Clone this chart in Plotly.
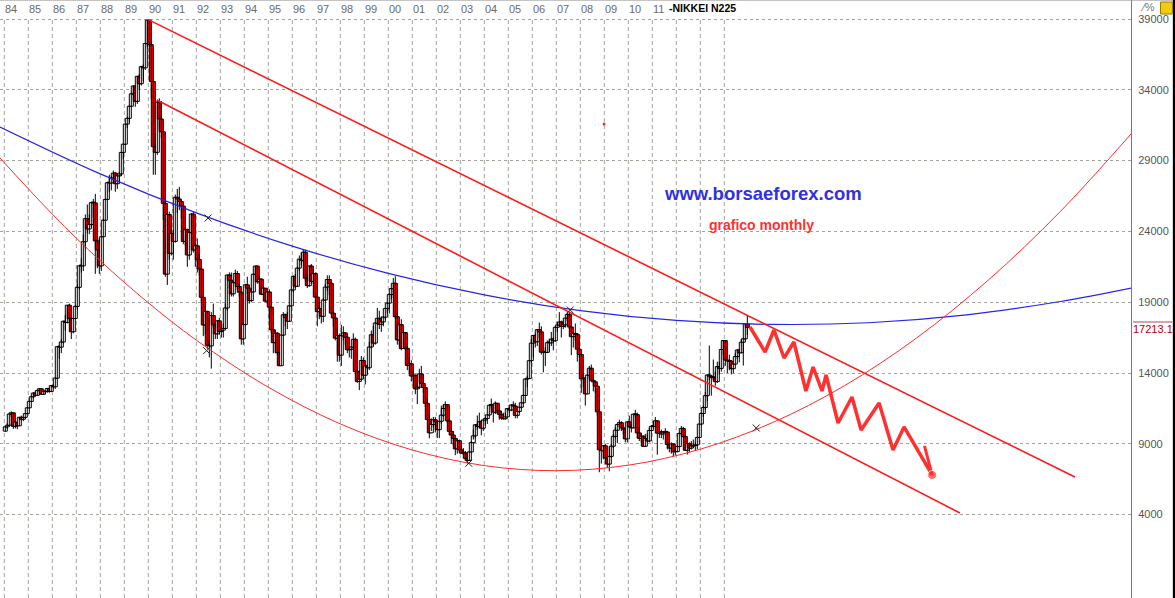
import plotly.graph_objects as go

# ---------------- data ----------------
START_YEAR = 1984
FIRST_OPEN = 9893  # open of Jan 1984 (each later bar opens at the previous close)

CLOSES = [
    10196, 10311, 11099, 11188, 10234, 10520, 10271, 10872, 10734, 10865, 11134, 11542,  # 1984
    11992, 12322, 12580, 12426, 12758, 12881, 12499, 12687, 12700, 12900, 12700, 13113,  # 1985
    13024, 13640, 15859, 15826, 16189, 17654, 17569, 18787, 17853, 16910, 17852, 18701,  # 1986
    20048, 21567, 21566, 23274, 24902, 24176, 24489, 26029, 26011, 23329, 22687, 21564,  # 1987
    23622, 24790, 26260, 27434, 27417, 27770, 28115, 27367, 27924, 28060, 29579, 30159,  # 1988
    31581, 31985, 32838, 33713, 34266, 33183, 34954, 34431, 35636, 35549, 37268, 38915,  # 1989
    37188, 34591, 29980, 29584, 33130, 31940, 31035, 25978, 20984, 25194, 22454, 23849,  # 1990
    23294, 26409, 26292, 26111, 25790, 23291, 24120, 22336, 23916, 25222, 22687, 22984,  # 1991
    22023, 21339, 19346, 17391, 18348, 15952, 15910, 18061, 17399, 16767, 17684, 16925,  # 1992
    17024, 17146, 18591, 20919, 20552, 19590, 20380, 21027, 20106, 19703, 16408, 17417,  # 1993
    20229, 19997, 19112, 19725, 20974, 21552, 20449, 20629, 19564, 19990, 19076, 19723,  # 1994
    18650, 17053, 16140, 16807, 15437, 14517, 16678, 18117, 17913, 17655, 18744, 19868,  # 1995
    20813, 20125, 21407, 22041, 21956, 22531, 20693, 20167, 21556, 20466, 21020, 19361,  # 1996
    18330, 18557, 18003, 19151, 20069, 20605, 20331, 18229, 17888, 16459, 16636, 15259,  # 1997
    16628, 16832, 16527, 15641, 15671, 15830, 16379, 14108, 13406, 13564, 14883, 13842,  # 1998
    14499, 14368, 15837, 16702, 16112, 17530, 17862, 17437, 17605, 17942, 18558, 18934,  # 1999
    19540, 19960, 20337, 17974, 16332, 17411, 15727, 16861, 15747, 14540, 14649, 13786,  # 2000
    13844, 12884, 12999, 13934, 13262, 12969, 11861, 10714, 9775, 10367, 10697, 10543,   # 2001
    9998, 10588, 11025, 11493, 11764, 10622, 9877, 9619, 9383, 8640, 9216, 8579,         # 2002
    8340, 8363, 7973, 7831, 8425, 9083, 9563, 10344, 10219, 10560, 10101, 10677,         # 2003
    10784, 11042, 11715, 11762, 11236, 11859, 11326, 11082, 10824, 10771, 10899, 11489,  # 2004
    11388, 11741, 11669, 11009, 11277, 11584, 11900, 12414, 13574, 13607, 14872, 16111,  # 2005
    16650, 16206, 17060, 16906, 15467, 15505, 15457, 16141, 16128, 16399, 16274, 17226,  # 2006
    17383, 17604, 17288, 17400, 17876, 18138, 17249, 16569, 16786, 16737, 15680, 15308,  # 2007
    13592, 13603, 12526, 13850, 14338, 13481, 13377, 13073, 11260, 8577, 8512, 8860,     # 2008
    7994, 7568, 8110, 8828, 9523, 9958, 10357, 10493, 10133, 10035, 9345, 10546,         # 2009
    10198, 10126, 11090, 11057, 9769, 9383, 9537, 8824, 9369, 9202, 9937, 10229,         # 2010
    10238, 10624, 9755, 9850, 9694, 9816, 9833, 8955, 8700, 8988, 8435, 8455,            # 2011
    8803, 9723, 10084, 9521, 8543, 9007, 8695, 8840, 8870, 8928, 9446, 10395,            # 2012
    11139, 11559, 12398, 13861, 13775, 13677, 13668, 13389, 14456, 14328, 15662, 16291,  # 2013
    14915, 14841, 14828, 14304, 14632, 15162, 15621, 15425, 16174, 16414, 17460, 17213.1,  # 2014
]

HIGHS = [
    10260, 10450, 11200, 11290, 11190, 10620, 10550, 10900, 10990, 10900, 11180, 11560,
    12030, 12400, 12650, 12700, 12780, 12950, 12900, 12700, 12750, 12950, 12960, 13130,
    13200, 13700, 15900, 16000, 16400, 17700, 18100, 18800, 18900, 17900, 17900, 18820,
    20300, 21600, 22100, 23800, 25200, 25900, 25200, 26100, 26300, 26650, 23400, 23500,
    23700, 24900, 26300, 27500, 28000, 27900, 28300, 28200, 28000, 28200, 29600, 30200,
    31600, 32100, 32900, 33800, 34300, 34300, 34960, 35100, 35700, 35800, 37300, 38957,
    38950, 37400, 34600, 30900, 33300, 33400, 33200, 31100, 26200, 25300, 25400, 24200,
    24100, 26600, 27000, 27146, 26200, 25800, 24300, 24200, 24000, 25300, 25400, 23200,
    23500, 22400, 21400, 19400, 18700, 18400, 16400, 18300, 18900, 17500, 17700, 17900,
    17400, 17500, 18900, 20950, 21100, 21100, 20500, 21300, 21200, 20300, 19800, 17600,
    20300, 20800, 20200, 20000, 21000, 21573, 21600, 20900, 20700, 20100, 20000, 19800,
    19900, 18700, 17100, 17000, 16900, 15500, 16700, 18300, 18200, 18300, 18800, 19900,
    20900, 21000, 21500, 22300, 22500, 22750, 22700, 21000, 21600, 21700, 21300, 21100,
    19400, 19000, 18600, 19300, 20300, 20900, 20900, 20400, 18400, 18200, 17200, 16800,
    17400, 17300, 16900, 16600, 15900, 15900, 16800, 16500, 14400, 14200, 15200, 15100,
    14600, 14600, 16200, 17000, 17300, 17600, 18600, 18400, 18000, 18000, 18600, 19000,
    19600, 20000, 20700, 20833, 18300, 17500, 17800, 16900, 16900, 15900, 15100, 14900,
    14200, 13900, 13300, 14300, 14500, 13900, 13000, 12200, 11100, 10800, 10900, 10900,
    10600, 10600, 11700, 11800, 12000, 11800, 10800, 10100, 9900, 9400, 9300, 9300,
    8800, 8700, 8500, 8300, 8500, 9200, 10000, 10400, 11000, 11200, 10700, 10700,
    10900, 11100, 11800, 12195, 11800, 12000, 11900, 11500, 11300, 11200, 11200, 11500,
    11600, 11800, 12000, 11900, 11300, 11600, 11900, 12500, 13600, 13800, 14900, 16400,
    16700, 16800, 17100, 17563, 17300, 15600, 15800, 16300, 16400, 16900, 16500, 17300,
    17600, 18300, 17700, 17700, 17900, 18300, 18262, 17300, 16900, 17500, 16800, 16300,
    15400, 14000, 13700, 13900, 14500, 14600, 13600, 13400, 12900, 11500, 9500, 8900,
    9000, 8000, 8800, 9000, 9700, 10170, 10400, 10700, 10600, 10300, 10100, 10600,
    10982, 10400, 11100, 11400, 11200, 10200, 9700, 9600, 9700, 9700, 10100, 10300,
    10600, 10891, 10600, 9900, 10000, 9900, 10100, 9900, 9100, 9100, 9000, 8800,
    8900, 9800, 10255, 10200, 9600, 9100, 9100, 9200, 9300, 9100, 9500, 10400,
    11200, 11700, 12650, 13900, 15942, 13800, 14953, 14100, 14800, 14800, 15700, 16320,
    16320, 15000, 15300, 14900, 14700, 15400, 15700, 15700, 16400, 16500, 17520, 18030,
]

LOWS = [
    9850, 10050, 10280, 10900, 10050, 10080, 10030, 10250, 10650, 10600, 10800, 11100,
    11500, 11950, 12250, 12350, 12400, 12700, 12450, 12450, 12500, 12600, 12600, 12700,
    12900, 12880, 13600, 15000, 15400, 16100, 17000, 17500, 17700, 16400, 16800, 17800,
    18500, 19900, 21100, 21200, 22800, 23900, 23800, 24300, 25000, 21000, 21400, 21000,
    21200, 23600, 24800, 26200, 26800, 26900, 27500, 26800, 27000, 27400, 27900, 29100,
    30100, 31300, 31700, 32800, 33600, 32800, 33000, 34000, 34300, 34600, 35400, 37000,
    37000, 33300, 28000, 28000, 29400, 31200, 30600, 24800, 20800, 20222, 22000, 22300,
    22000, 23200, 25300, 25500, 24900, 23100, 23000, 21500, 22000, 23800, 22500, 21500,
    21100, 20900, 19100, 16600, 16700, 15700, 15100, 14309, 17200, 16400, 16400, 16700,
    16500, 16500, 17100, 18400, 20000, 19400, 19400, 20300, 19900, 19400, 16000, 16000,
    17400, 19600, 18900, 19000, 19700, 20900, 20300, 20300, 19500, 19500, 19000, 18900,
    17800, 16800, 15400, 15400, 15300, 14485, 14500, 16600, 17300, 17100, 17600, 18700,
    19700, 20000, 20100, 21200, 21600, 21800, 20500, 20000, 20100, 20300, 20300, 19300,
    17300, 17800, 17500, 17600, 19100, 19800, 19500, 18100, 17300, 16300, 14800, 14800,
    14500, 16300, 16000, 15400, 15100, 15000, 15700, 14000, 13300, 12787, 13500, 13600,
    13200, 13900, 14200, 15800, 15900, 16000, 17400, 17100, 16900, 17300, 17800, 18200,
    18200, 19200, 19300, 17800, 16000, 16000, 15600, 15700, 15600, 14200, 14000, 13400,
    13100, 12500, 11800, 12900, 13100, 12600, 11600, 10700, 9382, 9900, 10200, 9800,
    9400, 9400, 10400, 10900, 11300, 10500, 9600, 9000, 8900, 8200, 8300, 8400,
    8300, 8200, 7800, 7607, 7800, 8400, 9300, 9400, 10000, 10100, 9600, 9900,
    10300, 10400, 11000, 11500, 10500, 11100, 11100, 10700, 10700, 10700, 10700, 10900,
    11200, 11300, 11600, 10800, 10800, 11200, 11500, 11800, 12400, 13000, 13600, 14700,
    15100, 15800, 15900, 16500, 15300, 14045, 14500, 15400, 15500, 15900, 15600, 16200,
    16900, 17300, 16500, 17100, 17200, 17700, 17100, 15262, 15800, 16300, 14800, 15100,
    12600, 13000, 11700, 12500, 13600, 13400, 12700, 12600, 11000, 6994, 7600, 7900,
    7800, 7300, 7055, 8000, 8700, 9400, 9050, 10200, 9900, 9700, 9100, 9100,
    10100, 9800, 10100, 10900, 9400, 9200, 9100, 8800, 8800, 9100, 9100, 9900,
    10100, 10200, 8227, 9400, 9400, 9300, 9800, 8600, 8400, 8300, 8100, 8200,
    8400, 8800, 9700, 9400, 8500, 8238, 8400, 8600, 8700, 8500, 8600, 9400,
    10300, 10900, 11400, 12000, 13500, 12400, 13500, 13100, 13300, 13900, 14100, 15300,
    14500, 13995, 14200, 13900, 13970, 14600, 15000, 14750, 15400, 14529, 16300, 16700,
]

LAST_PRICE = 17213.1

YEAR_LABELS = ["84", "85", "86", "87", "88", "89", "90", "91", "92", "93", "94", "95",
               "96", "97", "98", "99", "00", "01", "02", "03", "04", "05", "06", "07",
               "08", "09", "10", "11"]
GRID_YEARS = list(range(1984, 2015))
Y_TICKS = [4000, 9000, 14000, 19000, 24000, 29000, 34000, 39000]

# drawn studies, x in fractional years
CHANNEL_TOP_X = [1990.0, 2028.61]
CHANNEL_TOP_Y = [38957, 6655]
CHANNEL_LOW_X = [1990.36, 2023.82]
CHANNEL_LOW_Y = [33280, 4113]

BLUE_ARC_X = [1983.82, 1988, 1992, 1996, 2000, 2004, 2008, 2012, 2016, 2020, 2024, 2028, 2030.95]
BLUE_ARC_Y = [31373, 28061, 25306, 22962, 21034, 19516, 18407, 17715, 17432, 17550, 18087, 19047, 19999]

RED_ARC_X = [1983.82, 1986, 1988, 1990, 1992, 1995, 1998, 2001, 2004, 2007, 2010, 2013,
             2016, 2019, 2022, 2025, 2028, 2030.95]
RED_ARC_Y = [29184, 25221, 21924, 18958, 16323, 12997, 10405, 8562, 7460, 7100, 7489, 8619,
             10490, 13096, 16458, 20561, 25405, 30886]

MARK_X = [1992.49, 1992.43, 2003.35, 2007.58, 2015.33]
MARK_Y = [24946, 15580, 7623, 18449, 10116]

ZIG_X = [2015.07, 2015.70, 2016.07, 2016.49, 2016.90, 2017.40, 2017.70, 2018.07, 2018.24,
         2018.74, 2019.32, 2019.70, 2020.45, 2021.03, 2021.49, 2022.66]
ZIG_Y = [17249, 15484, 17037, 15060, 16190, 12729, 14424, 12729, 13859,
         10469, 12305, 9975, 11882, 8563, 10187, 6797]
ARROW_X = [2022.34, 2022.66]
ARROW_Y = [8845, 6797]

X_RANGE = [1983.821, 2030.946]
Y_RANGE = [-1890, 40342]

# ---------------- figure ----------------
months = [START_YEAR + i / 12 + 1 / 24 for i in range(len(CLOSES))]
opens = [FIRST_OPEN] + CLOSES[:-1]
body_base = [min(o, c) for o, c in zip(opens, CLOSES)]
body_len = [max(abs(c - o), 60) for o, c in zip(opens, CLOSES)]
body_col = ["#ffffff" if c >= o else "#ff0000" for o, c in zip(opens, CLOSES)]

wick_x, wick_y = [], []
for xm, h, l in zip(months, HIGHS, LOWS):
    wick_x += [xm, xm, None]
    wick_y += [l, h, None]

fig = go.Figure()

fig.add_trace(go.Scatter(x=wick_x, y=wick_y, mode="lines",
                         line=dict(color="#000000", width=1),
                         showlegend=False, hoverinfo="skip"))
fig.add_trace(go.Bar(x=months, y=body_len, base=body_base, width=4 / 24,
                     marker=dict(color=body_col, line=dict(color="#000000", width=1)),
                     showlegend=False, hoverinfo="skip"))

fig.add_trace(go.Scatter(x=BLUE_ARC_X, y=BLUE_ARC_Y, mode="lines",
                         line=dict(color="#2626e6", width=1.2, shape="spline"),
                         showlegend=False, hoverinfo="skip"))
fig.add_trace(go.Scatter(x=RED_ARC_X, y=RED_ARC_Y, mode="lines",
                         line=dict(color="#ff2a2a", width=1, shape="spline"),
                         showlegend=False, hoverinfo="skip"))
fig.add_trace(go.Scatter(x=CHANNEL_TOP_X, y=CHANNEL_TOP_Y, mode="lines",
                         line=dict(color="#ff1a1a", width=1.6),
                         showlegend=False, hoverinfo="skip"))
fig.add_trace(go.Scatter(x=CHANNEL_LOW_X, y=CHANNEL_LOW_Y, mode="lines",
                         line=dict(color="#ff1a1a", width=1.6),
                         showlegend=False, hoverinfo="skip"))
fig.add_trace(go.Scatter(x=MARK_X, y=MARK_Y, mode="markers",
                         marker=dict(symbol="x-thin", size=7, line=dict(color="#222222", width=1)),
                         showlegend=False, hoverinfo="skip"))
fig.add_trace(go.Scatter(x=ZIG_X, y=ZIG_Y, mode="lines",
                         line=dict(color="#ff3030", width=3.5),
                         showlegend=False, hoverinfo="skip"))
fig.add_trace(go.Scatter(x=ARROW_X, y=ARROW_Y, mode="lines+markers",
                         line=dict(color="#ff3030", width=3),
                         marker=dict(color="#ff3030", size=[0, 9], symbol="circle"),
                         showlegend=False, hoverinfo="skip"))
fig.add_trace(go.Scatter(x=[2008.99], y=[31585], mode="markers",
                         marker=dict(color="#ff2020", size=2.5, symbol="square"),
                         showlegend=False, hoverinfo="skip"))

shapes = []
for yr in GRID_YEARS:
    shapes.append(dict(type="line", xref="x", yref="y", x0=yr, x1=yr,
                       y0=Y_RANGE[0], y1=Y_TICKS[-1],
                       line=dict(color="#a3a39b", width=1, dash="4px,3px"), layer="below"))
# last price marker line on the axis
shapes.append(dict(type="line", xref="paper", yref="y", x0=1.0018, x1=1.0363,
                   y0=17602, y1=17602, line=dict(color="#b04848", width=1)))
# top frame
shapes.append(dict(type="line", xref="paper", yref="paper", x0=0, x1=1.04, y0=1, y1=1,
                   line=dict(color="#8a8a8a", width=1)))
# right window edge
shapes.append(dict(type="rect", xref="paper", yref="paper", x0=1.0370, x1=1.045, y0=0, y1=1,
                   fillcolor="#000000", line=dict(width=0)))
# yellow icon
shapes.append(dict(type="rect", xref="paper", yref="paper", x0=1.0261, x1=1.0366,
                   y0=1 - 14 / 598, y1=1 - 2 / 598,
                   fillcolor="#f2cc10", line=dict(color="#a07800", width=1)))

annotations = []
for lab, yr in zip(YEAR_LABELS, GRID_YEARS):
    annotations.append(dict(text=lab, xref="x", yref="paper", x=yr, y=1 - 8.5 / 598,
                            xanchor="left", yanchor="middle", showarrow=False, xshift=-1,
                            font=dict(size=11, color="#6a6a6a")))
annotations.append(dict(text="<b>-NIKKEI N225</b>", xref="x", yref="paper", x=2011.65,
                        y=1 - 8 / 598, xanchor="left", yanchor="middle", showarrow=False,
                        bgcolor="#ffffff", borderpad=0,
                        font=dict(size=10.5, color="#000000")))
annotations.append(dict(text="<b>www.borsaeforex.com</b>", xref="x", yref="y",
                        x=2011.40, y=26712, xanchor="left", yanchor="middle", showarrow=False,
                        font=dict(size=18.5, color="#3030e0")))
annotations.append(dict(text="<b>grafico monthly</b>", xref="x", yref="y",
                        x=2013.28, y=24452, xanchor="left", yanchor="middle", showarrow=False,
                        font=dict(size=14, color="#ff3030")))
annotations.append(dict(text=f"{LAST_PRICE}", xref="paper", yref="y", x=1.0010, y=17130,
                        xanchor="left", yanchor="middle", showarrow=False, borderpad=0,
                        font=dict(size=11, color="#b00000")))
annotations.append(dict(text="⁄%", xref="paper", yref="paper", x=1.0060, y=1 - 7 / 598,
                        xanchor="left", yanchor="middle", showarrow=False,
                        font=dict(size=11, color="#777777")))

fig.update_layout(
    width=1175, height=598,
    margin=dict(l=0, r=44, t=0, b=0),
    paper_bgcolor="#ffffff", plot_bgcolor="#ffffff",
    font=dict(family="Liberation Sans, Arial, sans-serif"),
    showlegend=False,
    barmode="overlay",
    shapes=shapes, annotations=annotations,
    xaxis=dict(range=X_RANGE, showgrid=False, zeroline=False, showticklabels=False,
               fixedrange=True),
    yaxis=dict(range=Y_RANGE, side="right", tickvals=Y_TICKS, tickformat="d",
               showgrid=True, gridcolor="#a3a39b", griddash="3px,3px", gridwidth=1,
               zeroline=False, showline=True, linecolor="#7a7a7a", linewidth=1,
               ticks="", ticklabelstandoff=4,
               tickfont=dict(size=11, color="#555555"), fixedrange=True),
)

fig.write_html("out.html", config={"displayModeBar": False},
               post_script="document.body.style.margin='0';")
